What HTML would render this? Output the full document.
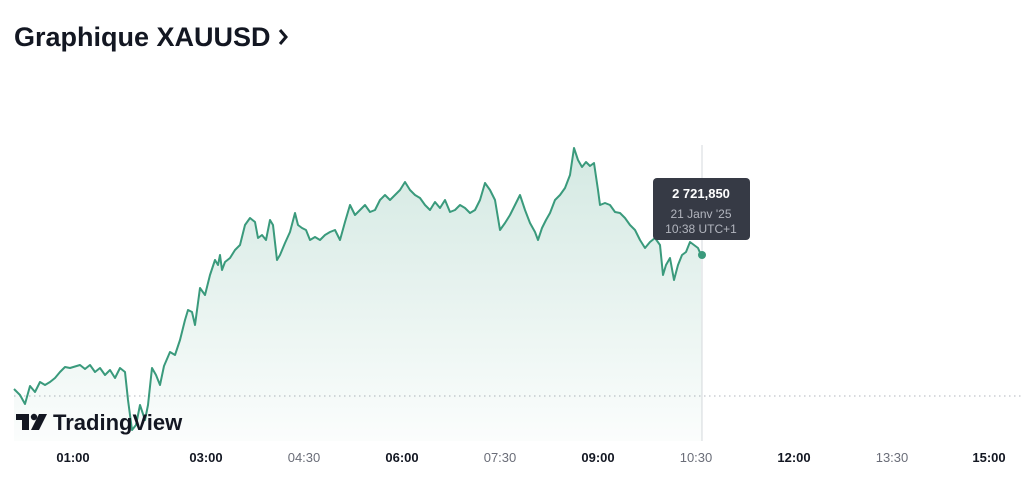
<!DOCTYPE html>
<html><head><meta charset="utf-8"><style>
body{margin:0;width:1024px;height:490px;background:#fff;overflow:hidden;font-family:"Liberation Sans",sans-serif}
</style></head><body>
<svg width="1024" height="490" xmlns="http://www.w3.org/2000/svg">
<defs><linearGradient id="g" x1="0" y1="0" x2="0" y2="1">
<stop offset="0" stop-color="#3a9a7c" stop-opacity="0.22"/><stop offset="1" stop-color="#3a9a7c" stop-opacity="0.02"/></linearGradient></defs>
<text x="14" y="46" font-size="27" font-weight="bold" fill="#131722">Graphique XAUUSD</text>
<path d="M280 30 l6 7 l-6 7" stroke="#131722" stroke-width="3" fill="none"/>
<line x1="14" y1="396" x2="1024" y2="396" stroke="#b0b4bc" stroke-dasharray="1.5 3.5"/>
<line x1="702" y1="145" x2="702" y2="441" stroke="#d6d8dc"/>
<g id="s">
<polygon fill="url(#g)" points="14,441 14,389 20,395 25,404 30,386 35,392 40,382 45,385 50,382 55,378 60,372 65,367 70,368 80,365 85,369 90,365 95,372 100,368 105,375 110,370 115,378 120,368 125,372 128,400 132,430 136,425 140,405 145,420 148,405 152,368 156,375 160,385 164,366 170,352 175,355 180,340 185,320 188,310 192,312 195,325 200,288 205,295 210,275 215,260 218,265 220,255 222,270 225,262 230,258 235,250 240,245 245,225 250,218 255,222 258,238 262,235 266,240 270,220 273,225 277,260 280,255 285,243 290,232 295,213 298,225 302,228 306,230 310,240 315,237 320,240 325,235 330,232 335,230 340,240 345,222 350,205 355,215 360,210 365,205 370,212 375,210 380,200 385,195 390,200 395,195 400,190 405,182 410,190 415,195 420,198 425,205 430,210 435,202 440,208 445,200 450,212 455,210 460,205 465,208 470,213 475,210 480,200 485,183 490,190 495,200 500,230 505,223 510,215 515,205 520,195 525,210 530,223 535,232 538,240 542,228 546,220 550,213 555,200 560,195 565,188 570,175 574,148 578,160 582,167 586,162 590,166 594,163 598,190 600,205 605,203 610,205 615,212 620,213 625,218 630,225 635,230 640,240 645,248 650,242 655,238 660,245 663,275 666,265 670,258 674,280 678,265 682,255 686,252 690,242 694,245 698,248 701,255 702,441"/>
<polyline fill="none" stroke="#3a9a7c" stroke-width="2" stroke-linejoin="round" points="14,389 20,395 25,404 30,386 35,392 40,382 45,385 50,382 55,378 60,372 65,367 70,368 80,365 85,369 90,365 95,372 100,368 105,375 110,370 115,378 120,368 125,372 128,400 132,430 136,425 140,405 145,420 148,405 152,368 156,375 160,385 164,366 170,352 175,355 180,340 185,320 188,310 192,312 195,325 200,288 205,295 210,275 215,260 218,265 220,255 222,270 225,262 230,258 235,250 240,245 245,225 250,218 255,222 258,238 262,235 266,240 270,220 273,225 277,260 280,255 285,243 290,232 295,213 298,225 302,228 306,230 310,240 315,237 320,240 325,235 330,232 335,230 340,240 345,222 350,205 355,215 360,210 365,205 370,212 375,210 380,200 385,195 390,200 395,195 400,190 405,182 410,190 415,195 420,198 425,205 430,210 435,202 440,208 445,200 450,212 455,210 460,205 465,208 470,213 475,210 480,200 485,183 490,190 495,200 500,230 505,223 510,215 515,205 520,195 525,210 530,223 535,232 538,240 542,228 546,220 550,213 555,200 560,195 565,188 570,175 574,148 578,160 582,167 586,162 590,166 594,163 598,190 600,205 605,203 610,205 615,212 620,213 625,218 630,225 635,230 640,240 645,248 650,242 655,238 660,245 663,275 666,265 670,258 674,280 678,265 682,255 686,252 690,242 694,245 698,248 701,255"/>
</g>
<circle cx="702" cy="255" r="4" fill="#3a9a7c"/>
<rect x="653" y="178" width="97" height="62" rx="4" fill="#363a45"/>
<text x="701" y="198" text-anchor="middle" font-size="13" font-weight="bold" fill="#fff">2 721,850</text>
<text x="701" y="218" text-anchor="middle" font-size="12" fill="#b2b5be">21 Janv '25</text>
<text x="701" y="233" text-anchor="middle" font-size="12" fill="#b2b5be">10:38 UTC+1</text>
<g fill="#131722">
<rect x="16" y="414" width="13" height="6"/><rect x="22" y="414" width="7" height="16"/>
<circle cx="34" cy="417" r="3.2"/><polygon points="39,414 47,414 39,430 31,430"/>
</g>
<text x="53" y="430" font-size="22" font-weight="bold" fill="#131722">TradingView</text>
<g font-size="13" text-anchor="middle" fill="#131722">
<text x="73" y="462" font-weight="bold">01:00</text>
<text x="206" y="462" font-weight="bold">03:00</text>
<text x="304" y="462" fill="#6a6d78">04:30</text>
<text x="402" y="462" font-weight="bold">06:00</text>
<text x="500" y="462" fill="#6a6d78">07:30</text>
<text x="598" y="462" font-weight="bold">09:00</text>
<text x="696" y="462" fill="#6a6d78">10:30</text>
<text x="794" y="462" font-weight="bold">12:00</text>
<text x="892" y="462" fill="#6a6d78">13:30</text>
<text x="989" y="462" font-weight="bold">15:00</text>
</g>
</svg>
</body></html>
